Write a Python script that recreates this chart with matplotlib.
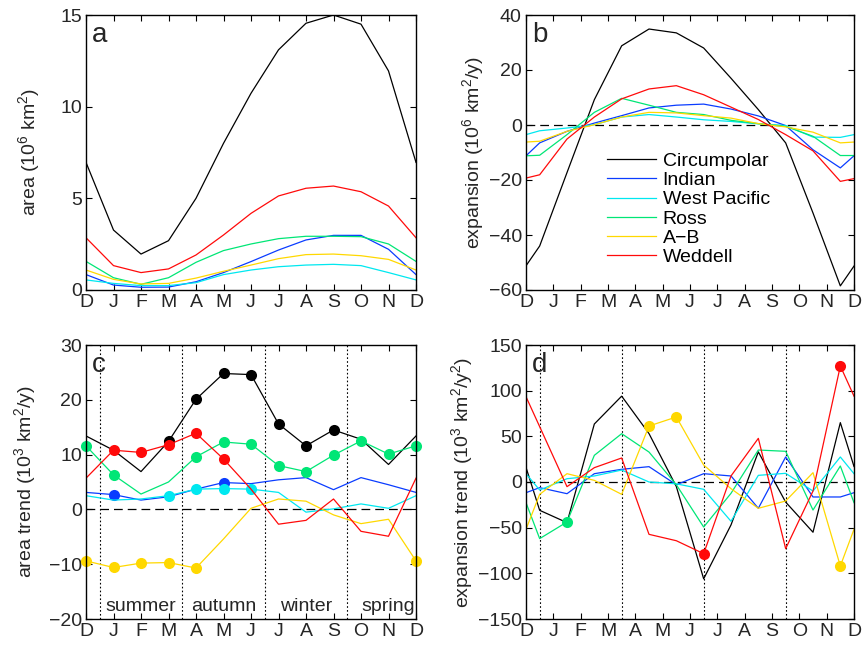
import numpy as np
import matplotlib
matplotlib.use('Agg')
import matplotlib.pyplot as plt

plt.rcParams['font.family'] = ['Liberation Sans', 'DejaVu Sans']
plt.rcParams['font.size'] = 14
plt.rcParams['mathtext.fontset'] = 'custom'
plt.rcParams['mathtext.rm'] = 'Liberation Sans'
plt.rcParams['mathtext.it'] = 'Liberation Sans'

# Month labels (D..D)
months = ['D', 'J', 'F', 'M', 'A', 'M', 'J', 'J', 'A', 'S', 'O', 'N', 'D']
regions = ['Circumpolar', 'Indian', 'West Pacific', 'Ross', 'A\u2212B', 'Weddell']
colors = ['black', '#0a3cff', '#00e8f0', '#00e676', '#ffd800', '#ff0a0a']

# a: area (10^6 km^2), monthly D..D
area_circ = [6.96, 3.27, 1.96, 2.69, 5.0, 8.0, 10.73, 13.1, 14.55, 15.0, 14.5, 11.95, 6.96]
area_ind = [0.84, 0.27, 0.15, 0.16, 0.45, 0.95, 1.55, 2.18, 2.73, 2.98, 2.98, 2.22, 0.84]
area_wp = [0.55, 0.36, 0.24, 0.24, 0.40, 0.84, 1.09, 1.27, 1.36, 1.40, 1.33, 0.95, 0.55]
area_ross = [1.56, 0.67, 0.31, 0.67, 1.51, 2.15, 2.51, 2.80, 2.93, 2.93, 2.91, 2.51, 1.56]
area_ab = [1.09, 0.58, 0.33, 0.36, 0.65, 1.02, 1.36, 1.71, 1.93, 1.96, 1.87, 1.67, 1.09]
area_wed = [2.85, 1.33, 0.95, 1.15, 1.91, 3.0, 4.18, 5.13, 5.55, 5.67, 5.36, 4.58, 2.85]

# b: expansion (10^6 km^2/y), D, mid-months, D
exp_circ = [-51.2, -44, -17.3, 9.2, 28.8, 34.9, 33.5, 28.0, 17, 5.6, -6.5, -32, -58.5, -51.3]
exp_ind = [-11.2, -6.5, -2.3, 0.7, 3.4, 6.2, 7.2, 7.6, 5.8, 3.3, -0.2, -9.0, -15.6, -11.2]
exp_wp = [-3.5, -2.1, -1.1, 0.1, 2.9, 3.8, 2.9, 1.9, 1.3, 0.4, -0.2, -4.4, -4.5, -3.5]
exp_ross = [-11.2, -11.0, -3.5, 4.6, 9.7, 7.2, 4.6, 3.8, 1.7, 0.5, -0.5, -4.1, -11.1, -11.1]
exp_ab = [-6.2, -5.9, -2.3, 0.1, 2.9, 4.6, 4.4, 3.4, 2.5, 0.5, -0.7, -2.6, -6.5, -6.2]
exp_wed = [-19.3, -18.1, -5.1, 2.9, 9.5, 13.1, 14.3, 11.0, 6.5, 2.0, -3.5, -9.4, -20.5, -19.5]

# c: area trend (10^3 km^2/y), monthly D..D
trend_circ = [13.4, 10.8, 6.9, 12.4, 20.1, 24.8, 24.6, 15.6, 11.6, 14.5, 12.8, 8.2, 13.4]
trend_ind = [3.1, 2.7, 1.7, 2.3, 3.7, 4.9, 4.7, 5.4, 5.8, 3.6, 5.8, 4.5, 3.1]
trend_wp = [2.5, 1.7, 1.9, 2.5, 3.7, 3.8, 3.7, 3.1, -0.5, 0.1, 1.0, 0.2, 2.5]
trend_ross = [11.6, 6.3, 2.8, 5.0, 9.6, 12.3, 11.9, 8.0, 6.9, 9.9, 12.5, 10.1, 11.6]
trend_ab = [-9.4, -10.6, -9.8, -9.7, -10.7, -5.4, 0.2, 1.9, 1.5, -1.0, -2.6, -1.8, -9.4]
trend_wed = [5.7, 10.8, 10.4, 11.8, 13.9, 9.2, 3.7, -2.7, -2.0, 1.9, -4.0, -4.9, 5.7]
# significant points (indices into the monthly arrays)
sig_c = [[3, 4, 5, 6, 7, 8, 9], [1, 5], [3, 4, 5, 6],
         [0, 1, 4, 5, 6, 7, 8, 9, 10, 11, 12], [0, 1, 2, 3, 4, 12], [1, 2, 3, 4, 5]]

# d: expansion trend (10^3 km^2/y^2), D, mid-months, D
etr_circ = [16, -31, -44.5, 63.5, 94, 53, -5, -106, -47, 33, -22, -55, 65, 17]
etr_ind = [-11.7, -6.2, -12.8, 9.1, 13.9, 16.8, -3, 9.1, 6.6, -28.8, 27.4, -16.4, -16.4, -11.7]
etr_wp = [9.1, -8.8, 3.6, 6.6, 13.1, 0, -2, -8, -43, 7.3, 9.5, -9.9, 27.4, 9.1]
etr_ross = [-22.6, -62, -43.8, 29.2, 52.9, 32.8, -3, -49.3, -12.4, 35, 33.6, -30.7, 17.5, -22.6]
etr_ab = [-51.8, -13.5, 9.1, 1.8, -13.5, 61.3, 71.2, 18.6, -7.3, -28.8, -20.8, 10.2, -92, -51.8]
etr_wed = [93.4, 60.6, -5.1, 15.7, 26.3, -57.3, -64.3, -78.5, 6.6, 47.8, -73, -9.9, 127, 94]
# significant points (indices into the mid-month arrays)
sig_d = [[], [], [], [2], [5, 6, 12], [7, 12]]

seasons = ['summer', 'autumn', 'winter', 'spring']

x_mon = np.arange(13)
x_mid = np.r_[0, np.arange(12) + 0.5, 12]

fig = plt.figure(figsize=(8.67, 6.47), dpi=100)
W, H = 867, 647
def add_ax(l, t, r, b):
    return fig.add_axes([l / W, 1 - b / H, (r - l) / W, (b - t) / H])

ax_a = add_ax(86, 15, 416, 290)
ax_b = add_ax(526, 15, 854, 290)
ax_c = add_ax(86, 345, 416, 619)
ax_d = add_ax(526, 345, 854, 619)

lw = 0.9
for ys, c in zip([area_circ, area_ind, area_wp, area_ross, area_ab, area_wed], colors):
    ax_a.plot(x_mon, ys, color=c, lw=lw)
for ys, c, lab in zip([exp_circ, exp_ind, exp_wp, exp_ross, exp_ab, exp_wed], colors, regions):
    ax_b.plot(x_mid, ys, color=c, lw=lw, label=lab)
for ys, c, s in zip([trend_circ, trend_ind, trend_wp, trend_ross, trend_ab, trend_wed], colors, sig_c):
    ys = np.array(ys)
    ax_c.plot(x_mon, ys, color=c, lw=lw)
    ax_c.plot(x_mon[s], ys[s], 'o', color=c, ms=8, mec='none', clip_on=False)
for ys, c, s in zip([etr_circ, etr_ind, etr_wp, etr_ross, etr_ab, etr_wed], colors, sig_d):
    ys = np.array(ys)
    ax_d.plot(x_mid, ys, color=c, lw=lw)
    if s:
        ax_d.plot(x_mid[s], ys[s], 'o', color=c, ms=8, mec='none', clip_on=False)

for ax in [ax_b, ax_c, ax_d]:
    ax.axhline(0, color='black', lw=0.9, ls=(0, (7, 4)), zorder=0)
for ax in [ax_c, ax_d]:
    for xv in [0.5, 3.5, 6.5, 9.5]:
        ax.axvline(xv, color='black', lw=0.8, ls=(0, (1.5, 2)), zorder=0)

for i, s in enumerate(seasons):
    ax_c.text(2 + 3 * i, -17.7, s, ha='center', va='center', color='#262626', fontsize=14)

ax_a.set_ylim(0, 15); ax_a.set_yticks([0, 5, 10, 15])
ax_b.set_ylim(-60, 40); ax_b.set_yticks(range(-60, 41, 20))
ax_c.set_ylim(-20, 30); ax_c.set_yticks(range(-20, 31, 10))
ax_d.set_ylim(-150, 150); ax_d.set_yticks(range(-150, 151, 50))

ax_a.set_ylabel('area (10$^6$ km$^2$)', labelpad=13)
ax_b.set_ylabel('expansion (10$^6$ km$^2$/y)', labelpad=2)
ax_c.set_ylabel('area trend (10$^3$ km$^2$/y)', labelpad=8)
ax_d.set_ylabel('expansion trend (10$^3$ km$^2$/y$^2$)', labelpad=2)

for ax, letter in zip([ax_a, ax_b, ax_c, ax_d], 'abcd'):
    ax.set_xlim(0, 12)
    ax.set_xticks(x_mon)
    ax.set_xticklabels(months)
    ax.tick_params(direction='in', top=True, right=True, length=4, width=0.8,
                   labelsize=14, labelcolor='#262626', pad=3)
    for sp in ax.spines.values():
        sp.set_linewidth(1.0)
    ax.yaxis.label.set_color('#262626')
    ax.text(0.018, 0.975, letter, transform=ax.transAxes, ha='left', va='top',
            fontsize=20, color='#262626')

ax_b.legend(loc='upper left', bbox_to_anchor=(0.247, 0.5), frameon=False,
            handlelength=2.5, handletextpad=0.36, labelspacing=0.08,
            borderpad=0, borderaxespad=0, fontsize=14)

fig.savefig('out.png', dpi=100)
